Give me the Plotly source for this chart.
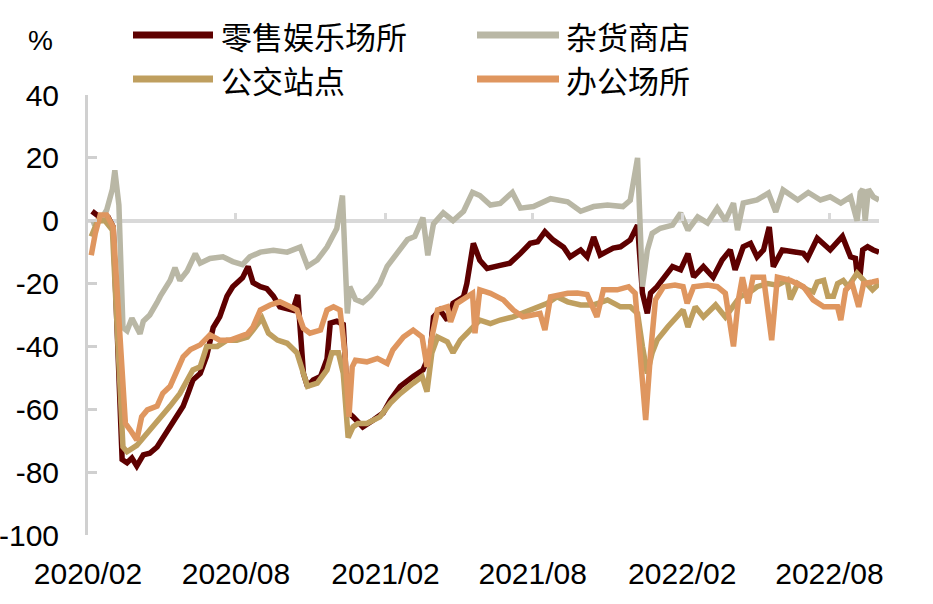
import pandas as pd
import plotly.graph_objects as go

START = "2020-02-15"

# ---- data: days since 2020-02-15, values in % vs baseline ----
retail_days = [5, 15, 25, 31, 42, 48, 54, 60, 68, 76, 85, 92, 101, 110, 117, 123, 129, 138, 146, 154,
               162, 171, 178, 190, 197, 203, 212, 220, 228, 236, 245, 252, 258, 265, 270, 277, 286, 294,
               298, 306, 314, 320, 326, 338, 351, 363, 372, 384, 400, 412, 421, 425, 433, 442, 449, 462,
               466, 474, 482, 491, 507, 519, 532, 544, 553, 562, 572, 585, 593, 606, 614, 622, 630, 646,
               655, 667, 676, 682, 688, 692, 700, 713, 719, 729, 738, 745, 757, 769, 780, 790, 796, 806,
               815, 823, 831, 838, 843, 854, 868, 880, 885, 897, 913, 928, 938, 944, 946, 950, 953, 959,
               966, 973]
retail_vals = [3, 1, 1, -2, -76, -77, -75.5, -78, -74.5, -74, -72, -69, -65.6, -62, -59, -55, -50.7,
               -48.6, -43, -34, -30.6, -24, -21, -18.2, -14.6, -19.7, -21, -21.6, -24, -27.4, -28, -28.5,
               -23.6, -48.6, -52.7, -50.7, -49.6, -44, -32.6, -32, -33, -61, -62.4, -65.6, -63.4, -61.2,
               -57, -52.7, -49.6, -47.5, -42, -30.6, -28.4, -31.6, -26.3, -24.2, -20, -7.2, -12.6, -15.2,
               -14.2, -13.5, -10.4, -7.2, -6.7, -3.5, -6.1, -8.4, -11.5, -9.3, -11.5, -5.2, -10.9, -8.7,
               -8.3, -6.1, -1.4, -23, -29.5, -23, -21, -16.7, -14.6, -15.6, -10.5, -17.9, -14.6, -18,
               -12.5, -9.3, -15.6, -8.3, -7.2, -11.5, -9.3, -2, -14.6, -9.3, -10, -10.4, -12, -5.6, -9.3,
               -5, -11.5, -12, -16.7, -16.7, -9.3, -8.3, -9.3, -10]

grocery_days = [4, 15, 23, 30, 33, 38, 43, 48, 54, 64, 68, 76, 85, 89, 101, 107, 113, 122, 132, 138,
                150, 166, 178, 190, 199, 212, 228, 245, 261, 270, 282, 294, 306, 313, 319, 322, 329, 338,
                347, 359, 368, 380, 393, 402, 412, 418, 425, 437, 449, 462, 473, 482, 495, 507, 522, 532,
                548, 569, 590, 606, 622, 639, 658, 667, 676, 682, 688, 694, 704, 719, 729, 738, 750, 762,
                774, 784, 794, 799, 806, 823, 837, 846, 855, 873, 886, 901, 913, 926, 938, 946, 950, 953,
                956, 960, 966, 973]
grocery_vals = [-1, 0, 3.4, 10, 16, 5, -34, -35, -31, -36, -32, -30, -26, -24, -19, -15, -19, -16, -10.5,
                -13.5, -12, -11.5, -13, -14, -11.5, -10, -9.4, -10, -8.4, -14.5, -12.5, -8.4, -2.5, 8,
                -29.5, -21, -25, -26, -24, -20, -14.5, -10.5, -6, -5, 1, -11, -1, 2.5, 0, 3, 9, 8, 5, 5.5,
                9, 4, 4.5, 7, 6, 3, 4.5, 5, 4.5, 6.5, 20, -21, -9.4, -4, -2.4, -1.4, 2.4, -3, 1.2, -0.7,
                4, 0, 5.6, -3, 5.6, 6.6, 8.8, 2.8, 9.8, 6.6, 9, 6.6, 7.6, 5.6, 7.6, 0, 9, 10, 0, 10, 7.6,
                6.6]

transit_days = [4, 12, 21, 30, 43, 48, 60, 73, 80, 89, 101, 113, 122, 129, 138, 146, 159, 171, 183, 196,
                203, 214, 222, 233, 245, 257, 265, 270, 282, 294, 300, 308, 314, 320, 326, 332, 343, 359,
                372, 384, 400, 411, 417, 423, 430, 442, 449, 458, 470, 482, 495, 507, 523, 544, 565, 577,
                590, 606, 622, 639, 655, 667, 676, 682, 688, 694, 700, 713, 725, 732, 738, 747, 757, 772,
                784, 793, 802, 815, 823, 836, 848, 860, 864, 873, 885, 892, 897, 905, 910, 917, 922, 929,
                935, 946, 954, 965, 973]
transit_vals = [-5, 0, 0, -3, -72, -73.5, -71.5, -67.6, -65.6, -62.4, -59, -55, -50.7, -47.5, -46.5, -40,
                -40, -38, -38, -37, -34.8, -31, -35.8, -38, -39, -42, -48.6, -52.7, -51.7, -47.5, -42, -42,
                -48.6, -69, -65.6, -64.5, -64.5, -62.4, -58, -55, -51.7, -49.6, -54.4, -42, -37, -38.5,
                -42, -38, -34.8, -31.6, -32.7, -31.6, -30.6, -28.4, -26.3, -24.2, -25.8, -26.8, -26.8,
                -25.2, -27.4, -27.4, -29.5, -40, -48.6, -42, -38, -33.8, -30.6, -28.4, -33.8, -27.4, -30.6,
                -26.8, -30.6, -27.4, -24.2, -22.6, -21, -20, -20.5, -18.9, -25, -20, -22, -22.6, -19.5,
                -19, -24, -24, -20, -19, -21, -16.7, -19, -22, -20]

office_days = [4, 9, 15, 23, 31, 46, 52, 60, 66, 73, 85, 92, 101, 110, 117, 126, 138, 150, 162, 175, 187,
               196, 203, 212, 224, 236, 249, 257, 265, 273, 286, 294, 302, 310, 316, 321, 325, 329, 343,
               356, 368, 375, 388, 400, 411, 417, 423, 430, 442, 446, 454, 466, 473, 476, 482, 495, 511,
               523, 535, 556, 562, 569, 590, 602, 614, 626, 634, 651, 665, 673, 679, 686, 692, 698, 708,
               722, 732, 737, 745, 762, 774, 784, 794, 800, 805, 812, 818, 831, 841, 848, 864, 880, 892,
               905, 922, 926, 932, 940, 948, 954, 965, 973]
office_vals = [-11, -4, 1.8, 1.8, -2, -64.5, -66.6, -69.8, -62.4, -60.2, -59, -54.9, -52.7, -47.5, -43.3,
               -41, -39.5, -36.3, -38, -38, -37, -36, -33.8, -28.4, -26.8, -25.8, -27.4, -28.4, -34.2,
               -35.8, -34.8, -28.4, -27.4, -28.4, -42, -62.4, -46.5, -44.4, -44.9, -43.8, -45.4, -41.1,
               -37, -34.8, -37, -46.5, -37, -28.4, -27.4, -32.2, -26.3, -24.2, -23.1, -35.8, -22, -23.1,
               -25.2, -28.4, -30.6, -29.5, -34.8, -24.2, -23.1, -23, -23.5, -30.6, -22, -22, -21, -23.1,
               -42, -63.4, -42, -25.2, -21, -20.5, -21, -26.3, -21, -20.5, -21, -23.1, -40, -25.2, -18,
               -26.3, -18, -18, -38, -18, -19, -21, -25.2, -27.4, -27.4, -31.6, -22, -20, -27.4, -20,
               -19.5, -19]

names = ["零售娱乐场所", "杂货商店", "公交站点", "办公场所"]
colors = ["#5e0000", "#b9b7a5", "#bf9f5f", "#df965f"]

tick_dates = ["2020-02-15", "2020-08-15", "2021-02-15", "2021-08-15", "2022-02-15", "2022-08-15"]
tick_text = ["2020/02", "2020/08", "2021/02", "2021/08", "2022/02", "2022/08"]
x_range = ["2020-02-15", "2022-10-15"]
y_ticks = [40, 20, 0, -20, -40, -60, -80, -100]
y_text = ["40", "20", "0", "-20", "-40", "-60", "-80", "-100"]


def to_dates(days):
    return pd.Timestamp(START) + pd.to_timedelta(days, unit="D")


series = [(retail_days, retail_vals), (grocery_days, grocery_vals),
          (transit_days, transit_vals), (office_days, office_vals)]

fig = go.Figure()
# carrier for the tick marks that sit on the zero line (no visible data)
fig.add_trace(go.Scatter(x=x_range, y=[None, None], xaxis="x2", mode="lines",
                         showlegend=False, hoverinfo="skip"))
for (d, v), n, c in zip(series, names, colors):
    fig.add_trace(go.Scatter(x=to_dates(d), y=v, name=n, mode="lines", showlegend=False,
                             line=dict(color=c, width=5.5), hoverinfo="skip"))

LAT = "Liberation Sans, Arial, sans-serif"
CJK = "Noto Sans CJK SC, sans-serif"

fig.update_layout(
    width=933, height=604,
    margin=dict(l=88, r=54, t=95, b=69, autoexpand=False),
    paper_bgcolor="white", plot_bgcolor="white",
    font=dict(family=LAT, size=30, color="black"),
    showlegend=False,
    hovermode=False,
    xaxis=dict(type="date", range=x_range, tickvals=tick_dates, ticktext=tick_text,
               showgrid=False, showline=False, zeroline=False, ticks="", automargin=False,
               ticklabelstandoff=18, tickfont=dict(family=LAT, size=30)),
    xaxis2=dict(type="date", range=x_range, tickvals=tick_dates, overlaying="x",
                anchor="free", position=100 / 140, side="bottom",
                ticks="inside", ticklen=8, tickwidth=3, tickcolor="#d9d9d9",
                showticklabels=False, showgrid=False, showline=False, zeroline=False),
    yaxis=dict(range=[-100, 40], tickvals=y_ticks, ticktext=y_text, showgrid=False,
               showline=True, linecolor="#d0d0d0", linewidth=3, automargin=False,
               ticks="inside", ticklen=9, tickwidth=3, tickcolor="#d0d0d0",
               zeroline=True, zerolinecolor="#d9d9d9", zerolinewidth=4,
               ticklabelstandoff=20, tickfont=dict(family=LAT, size=30)),
)

# legend drawn as keys + real text, laid out in two columns like the original
leg_pos = [(133, 213, 219, 35), (477, 559, 564, 35), (133, 213, 219, 79), (477, 559, 564, 79)]
for (x0, x1, xt, yc), n, c in zip(leg_pos, names, colors):
    fig.add_shape(type="line", xref="paper", yref="paper",
                  x0=(x0 - 88) / 791, x1=(x1 - 88) / 791,
                  y0=1 + (95 - yc) / 440, y1=1 + (95 - yc) / 440,
                  line=dict(color=c, width=7))
    fig.add_annotation(text=n, xref="paper", yref="paper", x=(xt - 88) / 791,
                       y=1 + (95 - yc) / 440, xanchor="left", yanchor="middle",
                       showarrow=False, font=dict(family=CJK, size=31, color="black"))

fig.add_annotation(text="%", xref="paper", yref="paper", x=(40 - 88) / 791, y=1 + 55 / 440,
                   xanchor="center", yanchor="middle", showarrow=False,
                   font=dict(family=LAT, size=28, color="black"))

fig.write_html("out.html", config={"displayModeBar": False},
               post_script="document.body.style.margin='0';")
